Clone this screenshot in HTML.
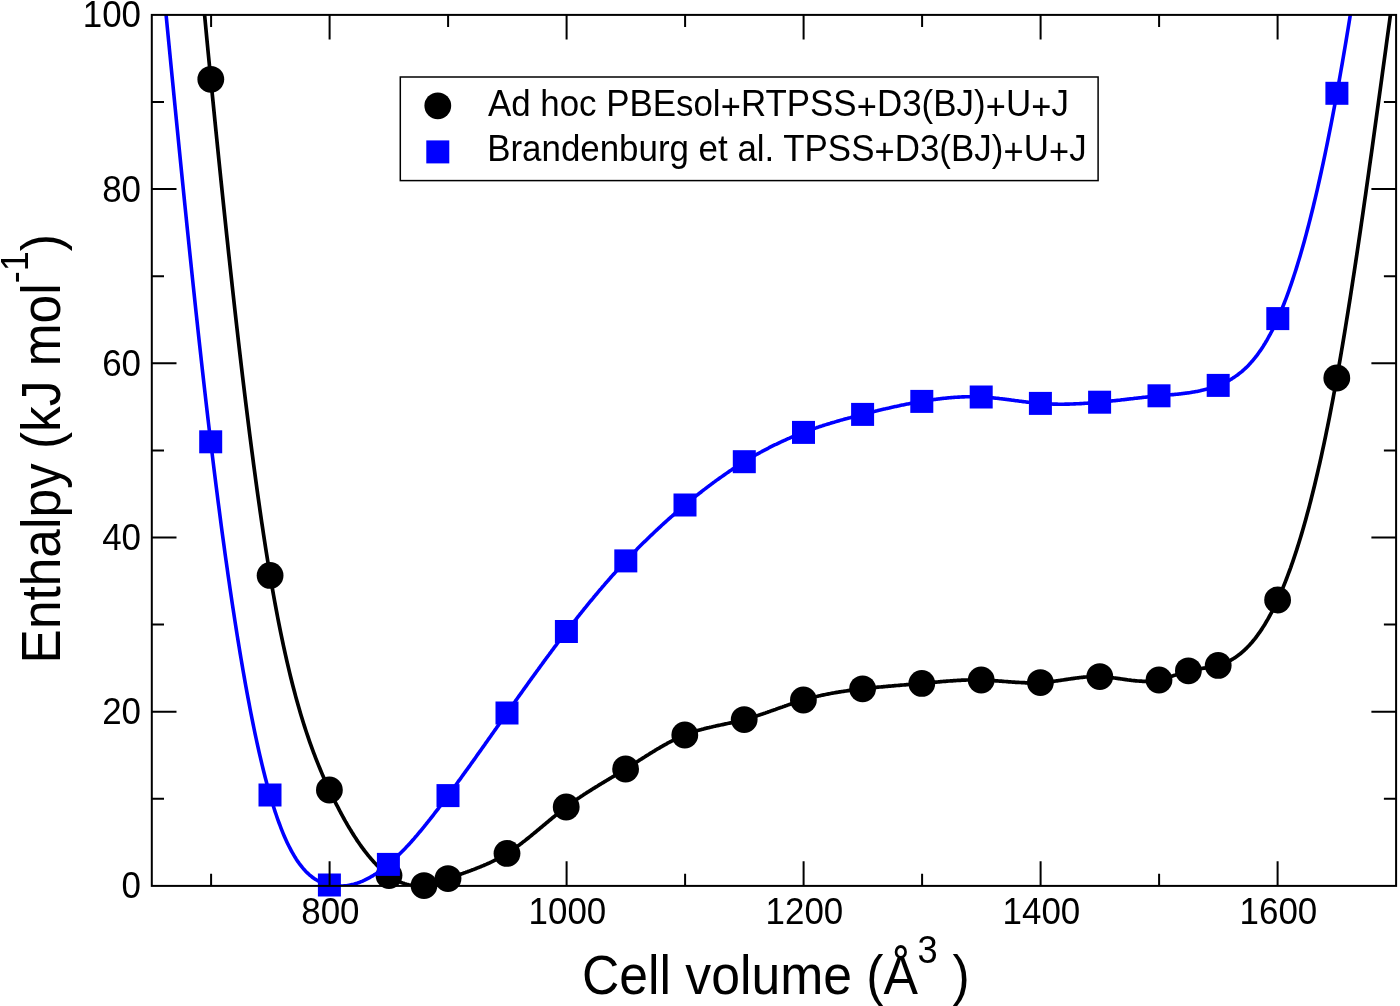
<!DOCTYPE html>
<html><head><meta charset="utf-8"><title>Enthalpy vs cell volume</title>
<style>html,body{margin:0;padding:0;background:#fff;}svg{display:block;}text{font-family:"Liberation Sans",sans-serif;fill:#000;}</style></head><body>
<svg width="1400" height="1006" viewBox="0 0 1400 1006">
<rect width="1400" height="1006" fill="#fff"/>
<defs><clipPath id="plot"><rect x="151.8" y="14.9" width="1244.3" height="871.0"/></clipPath></defs>
<path clip-path="url(#plot)" d="M196.6,-74.6 L197.6,-63.2 L198.6,-51.8 L199.6,-40.4 L200.6,-29.1 L201.6,-17.9 L202.6,-6.8 L203.6,4.2 L204.6,15.0 L205.6,25.7 L206.6,36.2 L207.6,46.6 L208.6,56.9 L209.6,67.1 L210.6,77.3 L211.6,87.4 L212.6,97.5 L213.6,107.5 L214.6,117.5 L215.6,127.5 L216.6,137.4 L217.6,147.2 L218.6,157.1 L219.6,166.9 L220.6,176.6 L221.6,186.3 L222.6,195.9 L223.6,205.5 L224.6,215.0 L225.6,224.5 L226.6,234.0 L227.6,243.3 L228.6,252.7 L229.6,261.9 L230.6,271.1 L231.6,280.3 L232.6,289.4 L233.6,298.4 L234.6,307.4 L235.6,316.3 L236.6,325.1 L237.6,333.9 L238.6,342.6 L239.6,351.2 L240.6,359.8 L241.6,368.2 L242.6,376.7 L243.6,385.0 L244.6,393.3 L245.6,401.5 L246.6,409.6 L247.6,417.6 L248.6,425.6 L249.6,433.5 L250.6,441.3 L251.6,449.0 L252.6,456.6 L253.6,464.2 L254.6,471.6 L255.6,479.0 L256.6,486.3 L257.6,493.5 L258.6,500.6 L259.6,507.6 L260.6,514.5 L261.6,521.4 L262.6,528.1 L263.6,534.7 L264.6,541.3 L265.6,547.7 L266.6,554.0 L267.6,560.3 L268.6,566.4 L269.6,572.4 L270.6,578.3 L271.6,584.2 L272.6,589.9 L273.6,595.5 L274.6,601.0 L275.6,606.4 L276.6,611.7 L277.6,617.0 L278.6,622.1 L279.6,627.1 L280.6,632.1 L281.6,636.9 L282.6,641.7 L283.6,646.3 L284.6,650.9 L285.6,655.4 L286.6,659.9 L287.6,664.2 L288.6,668.4 L289.6,672.6 L290.6,676.7 L291.6,680.7 L292.6,684.7 L293.6,688.5 L294.6,692.3 L295.6,696.1 L296.6,699.7 L297.6,703.3 L298.6,706.8 L299.6,710.3 L300.6,713.7 L301.6,717.0 L302.6,720.3 L303.6,723.5 L304.6,726.6 L305.6,729.7 L306.6,732.8 L307.6,735.7 L308.6,738.7 L309.6,741.6 L310.6,744.4 L311.6,747.2 L312.6,749.9 L313.6,752.6 L314.6,755.2 L315.6,757.8 L316.6,760.4 L317.6,762.9 L318.6,765.4 L319.6,767.8 L320.6,770.2 L321.6,772.6 L322.6,774.9 L323.6,777.2 L324.6,779.5 L325.6,781.7 L326.6,783.9 L327.6,786.1 L328.6,788.3 L329.6,790.4 L330.6,792.5 L331.6,794.6 L332.6,796.7 L333.6,798.8 L334.6,800.8 L335.6,802.8 L336.6,804.8 L337.6,806.7 L338.6,808.7 L339.6,810.6 L340.6,812.5 L341.6,814.3 L342.6,816.2 L343.6,818.0 L344.6,819.8 L345.6,821.6 L346.6,823.3 L347.6,825.1 L348.6,826.8 L349.6,828.4 L350.6,830.1 L351.6,831.7 L352.6,833.4 L353.6,834.9 L354.6,836.5 L355.6,838.0 L356.6,839.6 L357.6,841.1 L358.6,842.5 L359.6,844.0 L360.6,845.4 L361.6,846.8 L362.6,848.2 L363.6,849.5 L364.6,850.8 L365.6,852.1 L366.6,853.4 L367.6,854.7 L368.6,855.9 L369.6,857.1 L370.6,858.3 L371.6,859.4 L372.6,860.6 L373.6,861.7 L374.6,862.8 L375.6,863.8 L376.6,864.9 L377.6,865.9 L378.6,866.8 L379.6,867.8 L380.6,868.7 L381.6,869.6 L382.6,870.5 L383.6,871.4 L384.6,872.2 L385.6,873.0 L386.6,873.8 L387.6,874.6 L388.6,875.3 L389.6,876.0 L390.6,876.7 L391.6,877.4 L392.6,878.0 L393.6,878.6 L394.6,879.2 L395.6,879.7 L396.6,880.3 L397.6,880.8 L398.6,881.3 L399.6,881.7 L400.6,882.2 L401.6,882.6 L402.6,883.0 L403.6,883.3 L404.6,883.7 L405.6,884.0 L406.6,884.3 L407.6,884.5 L408.6,884.8 L409.6,885.0 L410.6,885.2 L411.6,885.4 L412.6,885.5 L413.6,885.6 L414.6,885.8 L415.6,885.8 L416.6,885.9 L417.6,885.9 L418.6,885.9 L419.6,885.9 L420.6,885.9 L421.6,885.8 L422.6,885.7 L423.6,885.6 L424.6,885.5 L425.6,885.4 L426.6,885.2 L427.6,885.0 L428.6,884.8 L429.6,884.6 L430.6,884.4 L431.6,884.1 L432.6,883.8 L433.6,883.5 L434.6,883.3 L435.6,882.9 L436.6,882.6 L437.6,882.3 L438.6,882.0 L439.6,881.6 L440.6,881.3 L441.6,880.9 L442.6,880.6 L443.6,880.2 L444.6,879.8 L445.6,879.5 L446.6,879.1 L447.6,878.7 L448.6,878.4 L449.6,878.0 L450.6,877.7 L451.6,877.3 L452.6,877.0 L453.6,876.6 L454.6,876.3 L455.6,875.9 L456.6,875.6 L457.6,875.2 L458.6,874.9 L459.6,874.5 L460.6,874.2 L461.6,873.8 L462.6,873.5 L463.6,873.1 L464.6,872.7 L465.6,872.4 L466.6,872.0 L467.6,871.7 L468.6,871.3 L469.6,871.0 L470.6,870.6 L471.6,870.2 L472.6,869.8 L473.6,869.5 L474.6,869.1 L475.6,868.7 L476.6,868.3 L477.6,867.9 L478.6,867.5 L479.6,867.1 L480.6,866.7 L481.6,866.3 L482.6,865.9 L483.6,865.5 L484.6,865.0 L485.6,864.6 L486.6,864.2 L487.6,863.7 L488.6,863.3 L489.6,862.8 L490.6,862.3 L491.6,861.9 L492.6,861.4 L493.6,860.9 L494.6,860.4 L495.6,859.9 L496.6,859.4 L497.6,858.8 L498.6,858.3 L499.6,857.8 L500.6,857.2 L501.6,856.6 L502.6,856.1 L503.6,855.5 L504.6,854.9 L505.6,854.3 L506.6,853.7 L507.6,853.0 L508.6,852.4 L509.6,851.7 L510.6,851.1 L511.6,850.4 L512.6,849.7 L513.6,849.0 L514.6,848.3 L515.6,847.6 L516.6,846.9 L517.6,846.2 L518.6,845.4 L519.6,844.7 L520.6,843.9 L521.6,843.2 L522.6,842.4 L523.6,841.6 L524.6,840.9 L525.6,840.1 L526.6,839.3 L527.6,838.5 L528.6,837.7 L529.6,836.9 L530.6,836.1 L531.6,835.3 L532.6,834.4 L533.6,833.6 L534.6,832.8 L535.6,832.0 L536.6,831.1 L537.6,830.3 L538.6,829.5 L539.6,828.6 L540.6,827.8 L541.6,827.0 L542.6,826.1 L543.6,825.3 L544.6,824.5 L545.6,823.6 L546.6,822.8 L547.6,822.0 L548.6,821.1 L549.6,820.3 L550.6,819.5 L551.6,818.6 L552.6,817.8 L553.6,817.0 L554.6,816.2 L555.6,815.3 L556.6,814.5 L557.6,813.7 L558.6,812.9 L559.6,812.1 L560.6,811.3 L561.6,810.5 L562.6,809.8 L563.6,809.0 L564.6,808.2 L565.6,807.5 L566.6,806.7 L567.6,805.9 L568.6,805.2 L569.6,804.5 L570.6,803.7 L571.6,803.0 L572.6,802.3 L573.6,801.6 L574.6,800.9 L575.6,800.2 L576.6,799.5 L577.6,798.8 L578.6,798.1 L579.6,797.5 L580.6,796.8 L581.6,796.1 L582.6,795.5 L583.6,794.8 L584.6,794.1 L585.6,793.5 L586.6,792.8 L587.6,792.2 L588.6,791.6 L589.6,790.9 L590.6,790.3 L591.6,789.7 L592.6,789.0 L593.6,788.4 L594.6,787.8 L595.6,787.2 L596.6,786.6 L597.6,786.0 L598.6,785.3 L599.6,784.7 L600.6,784.1 L601.6,783.5 L602.6,782.9 L603.6,782.3 L604.6,781.7 L605.6,781.1 L606.6,780.5 L607.6,779.9 L608.6,779.3 L609.6,778.7 L610.6,778.1 L611.6,777.5 L612.6,776.9 L613.6,776.3 L614.6,775.7 L615.6,775.1 L616.6,774.5 L617.6,773.9 L618.6,773.3 L619.6,772.7 L620.6,772.1 L621.6,771.5 L622.6,770.9 L623.6,770.2 L624.6,769.6 L625.6,769.0 L626.6,768.4 L627.6,767.8 L628.6,767.1 L629.6,766.5 L630.6,765.9 L631.6,765.2 L632.6,764.6 L633.6,764.0 L634.6,763.3 L635.6,762.7 L636.6,762.1 L637.6,761.4 L638.6,760.8 L639.6,760.1 L640.6,759.5 L641.6,758.9 L642.6,758.2 L643.6,757.6 L644.6,757.0 L645.6,756.3 L646.6,755.7 L647.6,755.1 L648.6,754.5 L649.6,753.8 L650.6,753.2 L651.6,752.6 L652.6,752.0 L653.6,751.4 L654.6,750.8 L655.6,750.1 L656.6,749.5 L657.6,748.9 L658.6,748.4 L659.6,747.8 L660.6,747.2 L661.6,746.6 L662.6,746.0 L663.6,745.5 L664.6,744.9 L665.6,744.3 L666.6,743.8 L667.6,743.2 L668.6,742.7 L669.6,742.2 L670.6,741.6 L671.6,741.1 L672.6,740.6 L673.6,740.1 L674.6,739.6 L675.6,739.1 L676.6,738.6 L677.6,738.1 L678.6,737.7 L679.6,737.2 L680.6,736.8 L681.6,736.3 L682.6,735.9 L683.6,735.5 L684.6,735.1 L685.6,734.7 L686.6,734.3 L687.6,733.9 L688.6,733.5 L689.6,733.2 L690.6,732.8 L691.6,732.5 L692.6,732.1 L693.6,731.8 L694.6,731.5 L695.6,731.2 L696.6,730.9 L697.6,730.6 L698.6,730.3 L699.6,730.0 L700.6,729.7 L701.6,729.4 L702.6,729.2 L703.6,728.9 L704.6,728.6 L705.6,728.4 L706.6,728.1 L707.6,727.9 L708.6,727.7 L709.6,727.4 L710.6,727.2 L711.6,727.0 L712.6,726.7 L713.6,726.5 L714.6,726.3 L715.6,726.1 L716.6,725.8 L717.6,725.6 L718.6,725.4 L719.6,725.2 L720.6,725.0 L721.6,724.8 L722.6,724.6 L723.6,724.4 L724.6,724.1 L725.6,723.9 L726.6,723.7 L727.6,723.5 L728.6,723.3 L729.6,723.1 L730.6,722.9 L731.6,722.6 L732.6,722.4 L733.6,722.2 L734.6,722.0 L735.6,721.7 L736.6,721.5 L737.6,721.3 L738.6,721.0 L739.6,720.8 L740.6,720.5 L741.6,720.3 L742.6,720.0 L743.6,719.8 L744.6,719.5 L745.6,719.2 L746.6,718.9 L747.6,718.7 L748.6,718.4 L749.6,718.1 L750.6,717.8 L751.6,717.5 L752.6,717.2 L753.6,716.9 L754.6,716.5 L755.6,716.2 L756.6,715.9 L757.6,715.6 L758.6,715.3 L759.6,714.9 L760.6,714.6 L761.6,714.2 L762.6,713.9 L763.6,713.6 L764.6,713.2 L765.6,712.9 L766.6,712.5 L767.6,712.2 L768.6,711.8 L769.6,711.5 L770.6,711.1 L771.6,710.8 L772.6,710.4 L773.6,710.1 L774.6,709.7 L775.6,709.4 L776.6,709.0 L777.6,708.6 L778.6,708.3 L779.6,707.9 L780.6,707.6 L781.6,707.2 L782.6,706.9 L783.6,706.5 L784.6,706.2 L785.6,705.8 L786.6,705.5 L787.6,705.1 L788.6,704.8 L789.6,704.4 L790.6,704.1 L791.6,703.7 L792.6,703.4 L793.6,703.1 L794.6,702.7 L795.6,702.4 L796.6,702.1 L797.6,701.8 L798.6,701.5 L799.6,701.2 L800.6,700.8 L801.6,700.5 L802.6,700.2 L803.6,699.9 L804.6,699.6 L805.6,699.4 L806.6,699.1 L807.6,698.8 L808.6,698.5 L809.6,698.3 L810.6,698.0 L811.6,697.7 L812.6,697.5 L813.6,697.2 L814.6,697.0 L815.6,696.7 L816.6,696.5 L817.6,696.3 L818.6,696.0 L819.6,695.8 L820.6,695.6 L821.6,695.3 L822.6,695.1 L823.6,694.9 L824.6,694.7 L825.6,694.5 L826.6,694.3 L827.6,694.1 L828.6,693.9 L829.6,693.7 L830.6,693.5 L831.6,693.3 L832.6,693.1 L833.6,693.0 L834.6,692.8 L835.6,692.6 L836.6,692.4 L837.6,692.3 L838.6,692.1 L839.6,691.9 L840.6,691.8 L841.6,691.6 L842.6,691.5 L843.6,691.3 L844.6,691.2 L845.6,691.0 L846.6,690.9 L847.6,690.7 L848.6,690.6 L849.6,690.4 L850.6,690.3 L851.6,690.2 L852.6,690.0 L853.6,689.9 L854.6,689.8 L855.6,689.6 L856.6,689.5 L857.6,689.4 L858.6,689.3 L859.6,689.1 L860.6,689.0 L861.6,688.9 L862.6,688.8 L863.6,688.7 L864.6,688.6 L865.6,688.5 L866.6,688.4 L867.6,688.2 L868.6,688.1 L869.6,688.0 L870.6,687.9 L871.6,687.8 L872.6,687.7 L873.6,687.6 L874.6,687.5 L875.6,687.4 L876.6,687.3 L877.6,687.2 L878.6,687.1 L879.6,687.0 L880.6,687.0 L881.6,686.9 L882.6,686.8 L883.6,686.7 L884.6,686.6 L885.6,686.5 L886.6,686.4 L887.6,686.3 L888.6,686.2 L889.6,686.1 L890.6,686.1 L891.6,686.0 L892.6,685.9 L893.6,685.8 L894.6,685.7 L895.6,685.6 L896.6,685.5 L897.6,685.5 L898.6,685.4 L899.6,685.3 L900.6,685.2 L901.6,685.1 L902.6,685.0 L903.6,685.0 L904.6,684.9 L905.6,684.8 L906.6,684.7 L907.6,684.6 L908.6,684.5 L909.6,684.5 L910.6,684.4 L911.6,684.3 L912.6,684.2 L913.6,684.1 L914.6,684.0 L915.6,683.9 L916.6,683.9 L917.6,683.8 L918.6,683.7 L919.6,683.6 L920.6,683.5 L921.6,683.4 L922.6,683.3 L923.6,683.2 L924.6,683.1 L925.6,683.1 L926.6,683.0 L927.6,682.9 L928.6,682.8 L929.6,682.7 L930.6,682.6 L931.6,682.5 L932.6,682.4 L933.6,682.3 L934.6,682.2 L935.6,682.1 L936.6,682.1 L937.6,682.0 L938.6,681.9 L939.6,681.8 L940.6,681.7 L941.6,681.6 L942.6,681.5 L943.6,681.4 L944.6,681.4 L945.6,681.3 L946.6,681.2 L947.6,681.1 L948.6,681.0 L949.6,681.0 L950.6,680.9 L951.6,680.8 L952.6,680.8 L953.6,680.7 L954.6,680.6 L955.6,680.6 L956.6,680.5 L957.6,680.4 L958.6,680.4 L959.6,680.3 L960.6,680.3 L961.6,680.2 L962.6,680.2 L963.6,680.2 L964.6,680.1 L965.6,680.1 L966.6,680.0 L967.6,680.0 L968.6,680.0 L969.6,680.0 L970.6,680.0 L971.6,679.9 L972.6,679.9 L973.6,679.9 L974.6,679.9 L975.6,679.9 L976.6,679.9 L977.6,679.9 L978.6,679.9 L979.6,680.0 L980.6,680.0 L981.6,680.0 L982.6,680.0 L983.6,680.1 L984.6,680.1 L985.6,680.2 L986.6,680.2 L987.6,680.3 L988.6,680.3 L989.6,680.4 L990.6,680.4 L991.6,680.5 L992.6,680.6 L993.6,680.6 L994.6,680.7 L995.6,680.8 L996.6,680.8 L997.6,680.9 L998.6,681.0 L999.6,681.1 L1000.6,681.1 L1001.6,681.2 L1002.6,681.3 L1003.6,681.4 L1004.6,681.5 L1005.6,681.5 L1006.6,681.6 L1007.6,681.7 L1008.6,681.8 L1009.6,681.8 L1010.6,681.9 L1011.6,682.0 L1012.6,682.1 L1013.6,682.1 L1014.6,682.2 L1015.6,682.3 L1016.6,682.3 L1017.6,682.4 L1018.6,682.4 L1019.6,682.5 L1020.6,682.5 L1021.6,682.6 L1022.6,682.6 L1023.6,682.7 L1024.6,682.7 L1025.6,682.8 L1026.6,682.8 L1027.6,682.8 L1028.6,682.8 L1029.6,682.8 L1030.6,682.8 L1031.6,682.8 L1032.6,682.8 L1033.6,682.8 L1034.6,682.8 L1035.6,682.8 L1036.6,682.8 L1037.6,682.7 L1038.6,682.7 L1039.6,682.6 L1040.6,682.6 L1041.6,682.5 L1042.6,682.5 L1043.6,682.4 L1044.6,682.3 L1045.6,682.2 L1046.6,682.1 L1047.6,682.0 L1048.6,681.9 L1049.6,681.8 L1050.6,681.7 L1051.6,681.6 L1052.6,681.4 L1053.6,681.3 L1054.6,681.2 L1055.6,681.0 L1056.6,680.9 L1057.6,680.8 L1058.6,680.6 L1059.6,680.5 L1060.6,680.3 L1061.6,680.2 L1062.6,680.0 L1063.6,679.9 L1064.6,679.7 L1065.6,679.6 L1066.6,679.4 L1067.6,679.3 L1068.6,679.1 L1069.6,679.0 L1070.6,678.8 L1071.6,678.7 L1072.6,678.6 L1073.6,678.4 L1074.6,678.3 L1075.6,678.1 L1076.6,678.0 L1077.6,677.9 L1078.6,677.8 L1079.6,677.6 L1080.6,677.5 L1081.6,677.4 L1082.6,677.3 L1083.6,677.2 L1084.6,677.1 L1085.6,677.0 L1086.6,677.0 L1087.6,676.9 L1088.6,676.8 L1089.6,676.7 L1090.6,676.7 L1091.6,676.6 L1092.6,676.6 L1093.6,676.6 L1094.6,676.6 L1095.6,676.5 L1096.6,676.5 L1097.6,676.6 L1098.6,676.6 L1099.6,676.6 L1100.6,676.6 L1101.6,676.7 L1102.6,676.7 L1103.6,676.8 L1104.6,676.9 L1105.6,677.0 L1106.6,677.0 L1107.6,677.1 L1108.6,677.3 L1109.6,677.4 L1110.6,677.5 L1111.6,677.6 L1112.6,677.7 L1113.6,677.9 L1114.6,678.0 L1115.6,678.1 L1116.6,678.3 L1117.6,678.4 L1118.6,678.6 L1119.6,678.7 L1120.6,678.8 L1121.6,679.0 L1122.6,679.1 L1123.6,679.3 L1124.6,679.4 L1125.6,679.6 L1126.6,679.7 L1127.6,679.9 L1128.6,680.0 L1129.6,680.1 L1130.6,680.2 L1131.6,680.4 L1132.6,680.5 L1133.6,680.6 L1134.6,680.7 L1135.6,680.8 L1136.6,680.9 L1137.6,681.0 L1138.6,681.0 L1139.6,681.1 L1140.6,681.2 L1141.6,681.2 L1142.6,681.3 L1143.6,681.3 L1144.6,681.3 L1145.6,681.3 L1146.6,681.3 L1147.6,681.3 L1148.6,681.2 L1149.6,681.2 L1150.6,681.1 L1151.6,681.1 L1152.6,681.0 L1153.6,680.9 L1154.6,680.7 L1155.6,680.6 L1156.6,680.4 L1157.6,680.3 L1158.6,680.1 L1159.6,679.9 L1160.6,679.6 L1161.6,679.4 L1162.6,679.1 L1163.6,678.9 L1164.6,678.6 L1165.6,678.3 L1166.6,678.0 L1167.6,677.6 L1168.6,677.3 L1169.6,677.0 L1170.6,676.6 L1171.6,676.3 L1172.6,675.9 L1173.6,675.6 L1174.6,675.2 L1175.6,674.9 L1176.6,674.5 L1177.6,674.2 L1178.6,673.8 L1179.6,673.5 L1180.6,673.1 L1181.6,672.8 L1182.6,672.5 L1183.6,672.2 L1184.6,671.8 L1185.6,671.6 L1186.6,671.3 L1187.6,671.0 L1188.6,670.8 L1189.6,670.5 L1190.6,670.3 L1191.6,670.1 L1192.6,669.9 L1193.6,669.7 L1194.6,669.5 L1195.6,669.4 L1196.6,669.2 L1197.6,669.0 L1198.6,668.9 L1199.6,668.8 L1200.6,668.6 L1201.6,668.5 L1202.6,668.3 L1203.6,668.2 L1204.6,668.1 L1205.6,667.9 L1206.6,667.8 L1207.6,667.6 L1208.6,667.5 L1209.6,667.3 L1210.6,667.1 L1211.6,666.9 L1212.6,666.7 L1213.6,666.5 L1214.6,666.3 L1215.6,666.1 L1216.6,665.8 L1217.6,665.6 L1218.6,665.3 L1219.6,665.0 L1220.6,664.7 L1221.6,664.3 L1222.6,664.0 L1223.6,663.6 L1224.6,663.2 L1225.6,662.7 L1226.6,662.3 L1227.6,661.8 L1228.6,661.3 L1229.6,660.8 L1230.6,660.3 L1231.6,659.7 L1232.6,659.1 L1233.6,658.5 L1234.6,657.9 L1235.6,657.2 L1236.6,656.5 L1237.6,655.8 L1238.6,655.0 L1239.6,654.3 L1240.6,653.5 L1241.6,652.6 L1242.6,651.8 L1243.6,650.9 L1244.6,650.0 L1245.6,649.0 L1246.6,648.1 L1247.6,647.0 L1248.6,646.0 L1249.6,644.9 L1250.6,643.8 L1251.6,642.7 L1252.6,641.5 L1253.6,640.3 L1254.6,639.1 L1255.6,637.8 L1256.6,636.5 L1257.6,635.1 L1258.6,633.7 L1259.6,632.3 L1260.6,630.9 L1261.6,629.4 L1262.6,627.8 L1263.6,626.3 L1264.6,624.7 L1265.6,623.0 L1266.6,621.3 L1267.6,619.6 L1268.6,617.8 L1269.6,616.0 L1270.6,614.2 L1271.6,612.3 L1272.6,610.3 L1273.6,608.4 L1274.6,606.3 L1275.6,604.3 L1276.6,602.2 L1277.6,600.0 L1278.6,597.8 L1279.6,595.6 L1280.6,593.3 L1281.6,590.9 L1282.6,588.5 L1283.6,586.1 L1284.6,583.6 L1285.6,581.1 L1286.6,578.5 L1287.6,575.9 L1288.6,573.2 L1289.6,570.5 L1290.6,567.8 L1291.6,564.9 L1292.6,562.1 L1293.6,559.1 L1294.6,556.2 L1295.6,553.1 L1296.6,550.1 L1297.6,546.9 L1298.6,543.7 L1299.6,540.5 L1300.6,537.2 L1301.6,533.9 L1302.6,530.5 L1303.6,527.0 L1304.6,523.5 L1305.6,519.9 L1306.6,516.3 L1307.6,512.6 L1308.6,508.9 L1309.6,505.1 L1310.6,501.2 L1311.6,497.3 L1312.6,493.3 L1313.6,489.3 L1314.6,485.2 L1315.6,481.0 L1316.6,476.8 L1317.6,472.5 L1318.6,468.2 L1319.6,463.8 L1320.6,459.3 L1321.6,454.8 L1322.6,450.2 L1323.6,445.6 L1324.6,440.8 L1325.6,436.1 L1326.6,431.2 L1327.6,426.3 L1328.6,421.3 L1329.6,416.3 L1330.6,411.2 L1331.6,406.0 L1332.6,400.8 L1333.6,395.5 L1334.6,390.1 L1335.6,384.6 L1336.6,379.1 L1337.6,373.5 L1338.6,367.9 L1339.6,362.1 L1340.6,356.4 L1341.6,350.5 L1342.6,344.6 L1343.6,338.6 L1344.6,332.6 L1345.6,326.5 L1346.6,320.3 L1347.6,314.1 L1348.6,307.9 L1349.6,301.6 L1350.6,295.2 L1351.6,288.8 L1352.6,282.3 L1353.6,275.8 L1354.6,269.2 L1355.6,262.6 L1356.6,256.0 L1357.6,249.3 L1358.6,242.5 L1359.6,235.8 L1360.6,228.9 L1361.6,222.1 L1362.6,215.2 L1363.6,208.3 L1364.6,201.3 L1365.6,194.4 L1366.6,187.3 L1367.6,180.3 L1368.6,173.2 L1369.6,166.1 L1370.6,159.0 L1371.6,151.9 L1372.6,144.7 L1373.6,137.5 L1374.6,130.3 L1375.6,123.1 L1376.6,115.8 L1377.6,108.6 L1378.6,101.3 L1379.6,94.0 L1380.6,86.7 L1381.6,79.4 L1382.6,72.1 L1383.6,64.8 L1384.6,57.5 L1385.6,50.2 L1386.6,42.8 L1387.6,35.5 L1388.6,28.2 L1389.6,20.9 L1390.6,13.5 L1391.6,6.2 L1392.6,-1.1 L1393.6,-8.4 L1394.6,-15.7 L1395.6,-23.0 L1396.6,-30.4 L1397.6,-37.7" fill="none" stroke="#000" stroke-width="3.7" stroke-linejoin="round"/>
<g fill="#000"><circle cx="210.8" cy="79.3" r="13.4"/><circle cx="270.1" cy="575.4" r="13.4"/><circle cx="329.4" cy="790.0" r="13.4"/><circle cx="389.0" cy="875.6" r="13.4"/><circle cx="424.0" cy="885.6" r="13.4"/><circle cx="448.0" cy="878.6" r="13.4"/><circle cx="507.0" cy="853.4" r="13.4"/><circle cx="566.2" cy="807.0" r="13.4"/><circle cx="625.6" cy="769.0" r="13.4"/><circle cx="684.8" cy="735.0" r="13.4"/><circle cx="744.2" cy="719.6" r="13.4"/><circle cx="803.4" cy="700.0" r="13.4"/><circle cx="862.6" cy="688.8" r="13.4"/><circle cx="921.8" cy="683.4" r="13.4"/><circle cx="981.2" cy="680.0" r="13.4"/><circle cx="1040.4" cy="682.6" r="13.4"/><circle cx="1099.8" cy="676.6" r="13.4"/><circle cx="1159.0" cy="680.0" r="13.4"/><circle cx="1188.4" cy="670.8" r="13.4"/><circle cx="1218.2" cy="665.4" r="13.4"/><circle cx="1277.6" cy="600.0" r="13.4"/><circle cx="1336.8" cy="378.0" r="13.4"/></g>
<path clip-path="url(#plot)" d="M158.1,-67.7 L159.1,-57.3 L160.1,-47.0 L161.1,-36.6 L162.1,-26.3 L163.1,-16.0 L164.1,-5.6 L165.1,4.7 L166.1,15.0 L167.1,25.3 L168.1,35.6 L169.1,45.9 L170.1,56.1 L171.1,66.4 L172.1,76.6 L173.1,86.8 L174.1,97.0 L175.1,107.1 L176.1,117.3 L177.1,127.4 L178.1,137.4 L179.1,147.5 L180.1,157.5 L181.1,167.5 L182.1,177.5 L183.1,187.4 L184.1,197.3 L185.1,207.1 L186.1,216.9 L187.1,226.7 L188.1,236.4 L189.1,246.1 L190.1,255.8 L191.1,265.3 L192.1,274.9 L193.1,284.4 L194.1,293.8 L195.1,303.2 L196.1,312.6 L197.1,321.8 L198.1,331.1 L199.1,340.2 L200.1,349.3 L201.1,358.4 L202.1,367.4 L203.1,376.3 L204.1,385.1 L205.1,393.9 L206.1,402.6 L207.1,411.3 L208.1,419.9 L209.1,428.4 L210.1,436.8 L211.1,445.1 L212.1,453.4 L213.1,461.6 L214.1,469.7 L215.1,477.8 L216.1,485.7 L217.1,493.6 L218.1,501.4 L219.1,509.1 L220.1,516.8 L221.1,524.4 L222.1,531.9 L223.1,539.3 L224.1,546.6 L225.1,553.9 L226.1,561.0 L227.1,568.1 L228.1,575.2 L229.1,582.1 L230.1,589.0 L231.1,595.7 L232.1,602.4 L233.1,609.0 L234.1,615.6 L235.1,622.0 L236.1,628.4 L237.1,634.7 L238.1,640.9 L239.1,647.0 L240.1,653.1 L241.1,659.0 L242.1,664.9 L243.1,670.7 L244.1,676.4 L245.1,682.1 L246.1,687.6 L247.1,693.1 L248.1,698.4 L249.1,703.7 L250.1,709.0 L251.1,714.1 L252.1,719.1 L253.1,724.1 L254.1,729.0 L255.1,733.8 L256.1,738.5 L257.1,743.1 L258.1,747.6 L259.1,752.1 L260.1,756.4 L261.1,760.7 L262.1,764.9 L263.1,769.0 L264.1,773.0 L265.1,777.0 L266.1,780.8 L267.1,784.6 L268.1,788.3 L269.1,791.8 L270.1,795.3 L271.1,798.8 L272.1,802.1 L273.1,805.3 L274.1,808.5 L275.1,811.6 L276.1,814.5 L277.1,817.5 L278.1,820.3 L279.1,823.0 L280.1,825.7 L281.1,828.3 L282.1,830.8 L283.1,833.3 L284.1,835.7 L285.1,838.0 L286.1,840.2 L287.1,842.4 L288.1,844.5 L289.1,846.5 L290.1,848.4 L291.1,850.3 L292.1,852.2 L293.1,853.9 L294.1,855.6 L295.1,857.3 L296.1,858.9 L297.1,860.4 L298.1,861.9 L299.1,863.3 L300.1,864.6 L301.1,865.9 L302.1,867.2 L303.1,868.4 L304.1,869.5 L305.1,870.6 L306.1,871.7 L307.1,872.7 L308.1,873.6 L309.1,874.6 L310.1,875.4 L311.1,876.2 L312.1,877.0 L313.1,877.8 L314.1,878.5 L315.1,879.1 L316.1,879.7 L317.1,880.3 L318.1,880.9 L319.1,881.4 L320.1,881.9 L321.1,882.3 L322.1,882.8 L323.1,883.1 L324.1,883.5 L325.1,883.8 L326.1,884.2 L327.1,884.4 L328.1,884.7 L329.1,884.9 L330.1,885.1 L331.1,885.3 L332.1,885.5 L333.1,885.7 L334.1,885.8 L335.1,885.9 L336.1,886.0 L337.1,886.0 L338.1,886.1 L339.1,886.1 L340.1,886.1 L341.1,886.1 L342.1,886.1 L343.1,886.0 L344.1,885.9 L345.1,885.8 L346.1,885.7 L347.1,885.6 L348.1,885.4 L349.1,885.2 L350.1,885.1 L351.1,884.8 L352.1,884.6 L353.1,884.4 L354.1,884.1 L355.1,883.8 L356.1,883.5 L357.1,883.2 L358.1,882.8 L359.1,882.5 L360.1,882.1 L361.1,881.7 L362.1,881.3 L363.1,880.8 L364.1,880.4 L365.1,879.9 L366.1,879.4 L367.1,878.9 L368.1,878.4 L369.1,877.9 L370.1,877.3 L371.1,876.7 L372.1,876.2 L373.1,875.6 L374.1,874.9 L375.1,874.3 L376.1,873.7 L377.1,873.0 L378.1,872.3 L379.1,871.6 L380.1,870.9 L381.1,870.2 L382.1,869.4 L383.1,868.7 L384.1,867.9 L385.1,867.1 L386.1,866.3 L387.1,865.5 L388.1,864.7 L389.1,863.8 L390.1,862.9 L391.1,862.1 L392.1,861.2 L393.1,860.3 L394.1,859.4 L395.1,858.4 L396.1,857.5 L397.1,856.5 L398.1,855.6 L399.1,854.6 L400.1,853.6 L401.1,852.6 L402.1,851.6 L403.1,850.6 L404.1,849.5 L405.1,848.5 L406.1,847.4 L407.1,846.3 L408.1,845.3 L409.1,844.2 L410.1,843.1 L411.1,842.0 L412.1,840.8 L413.1,839.7 L414.1,838.6 L415.1,837.4 L416.1,836.2 L417.1,835.1 L418.1,833.9 L419.1,832.7 L420.1,831.5 L421.1,830.3 L422.1,829.1 L423.1,827.9 L424.1,826.7 L425.1,825.4 L426.1,824.2 L427.1,822.9 L428.1,821.7 L429.1,820.4 L430.1,819.2 L431.1,817.9 L432.1,816.6 L433.1,815.3 L434.1,814.0 L435.1,812.7 L436.1,811.4 L437.1,810.1 L438.1,808.8 L439.1,807.5 L440.1,806.2 L441.1,804.8 L442.1,803.5 L443.1,802.2 L444.1,800.8 L445.1,799.5 L446.1,798.2 L447.1,796.8 L448.1,795.5 L449.1,794.1 L450.1,792.8 L451.1,791.4 L452.1,790.0 L453.1,788.7 L454.1,787.3 L455.1,785.9 L456.1,784.6 L457.1,783.2 L458.1,781.8 L459.1,780.4 L460.1,779.1 L461.1,777.7 L462.1,776.3 L463.1,774.9 L464.1,773.5 L465.1,772.1 L466.1,770.7 L467.1,769.4 L468.1,768.0 L469.1,766.6 L470.1,765.2 L471.1,763.8 L472.1,762.4 L473.1,761.0 L474.1,759.6 L475.1,758.2 L476.1,756.8 L477.1,755.3 L478.1,753.9 L479.1,752.5 L480.1,751.1 L481.1,749.7 L482.1,748.3 L483.1,746.9 L484.1,745.5 L485.1,744.1 L486.1,742.6 L487.1,741.2 L488.1,739.8 L489.1,738.4 L490.1,737.0 L491.1,735.6 L492.1,734.1 L493.1,732.7 L494.1,731.3 L495.1,729.9 L496.1,728.5 L497.1,727.0 L498.1,725.6 L499.1,724.2 L500.1,722.8 L501.1,721.4 L502.1,719.9 L503.1,718.5 L504.1,717.1 L505.1,715.7 L506.1,714.3 L507.1,712.9 L508.1,711.4 L509.1,710.0 L510.1,708.6 L511.1,707.2 L512.1,705.8 L513.1,704.4 L514.1,703.0 L515.1,701.6 L516.1,700.1 L517.1,698.7 L518.1,697.3 L519.1,695.9 L520.1,694.5 L521.1,693.1 L522.1,691.7 L523.1,690.3 L524.1,688.9 L525.1,687.5 L526.1,686.1 L527.1,684.7 L528.1,683.3 L529.1,681.9 L530.1,680.5 L531.1,679.1 L532.1,677.7 L533.1,676.4 L534.1,675.0 L535.1,673.6 L536.1,672.2 L537.1,670.8 L538.1,669.5 L539.1,668.1 L540.1,666.7 L541.1,665.3 L542.1,664.0 L543.1,662.6 L544.1,661.2 L545.1,659.9 L546.1,658.5 L547.1,657.2 L548.1,655.8 L549.1,654.5 L550.1,653.1 L551.1,651.8 L552.1,650.4 L553.1,649.1 L554.1,647.7 L555.1,646.4 L556.1,645.1 L557.1,643.7 L558.1,642.4 L559.1,641.1 L560.1,639.8 L561.1,638.4 L562.1,637.1 L563.1,635.8 L564.1,634.5 L565.1,633.2 L566.1,631.9 L567.1,630.6 L568.1,629.3 L569.1,628.0 L570.1,626.7 L571.1,625.4 L572.1,624.1 L573.1,622.9 L574.1,621.6 L575.1,620.3 L576.1,619.1 L577.1,617.8 L578.1,616.5 L579.1,615.3 L580.1,614.0 L581.1,612.8 L582.1,611.5 L583.1,610.3 L584.1,609.0 L585.1,607.8 L586.1,606.6 L587.1,605.3 L588.1,604.1 L589.1,602.9 L590.1,601.7 L591.1,600.5 L592.1,599.3 L593.1,598.1 L594.1,596.8 L595.1,595.7 L596.1,594.5 L597.1,593.3 L598.1,592.1 L599.1,590.9 L600.1,589.7 L601.1,588.6 L602.1,587.4 L603.1,586.2 L604.1,585.1 L605.1,583.9 L606.1,582.7 L607.1,581.6 L608.1,580.5 L609.1,579.3 L610.1,578.2 L611.1,577.0 L612.1,575.9 L613.1,574.8 L614.1,573.7 L615.1,572.6 L616.1,571.4 L617.1,570.3 L618.1,569.2 L619.1,568.1 L620.1,567.0 L621.1,566.0 L622.1,564.9 L623.1,563.8 L624.1,562.7 L625.1,561.6 L626.1,560.6 L627.1,559.5 L628.1,558.5 L629.1,557.4 L630.1,556.4 L631.1,555.3 L632.1,554.3 L633.1,553.2 L634.1,552.2 L635.1,551.2 L636.1,550.2 L637.1,549.1 L638.1,548.1 L639.1,547.1 L640.1,546.1 L641.1,545.1 L642.1,544.1 L643.1,543.1 L644.1,542.1 L645.1,541.2 L646.1,540.2 L647.1,539.2 L648.1,538.2 L649.1,537.3 L650.1,536.3 L651.1,535.3 L652.1,534.4 L653.1,533.4 L654.1,532.5 L655.1,531.5 L656.1,530.6 L657.1,529.7 L658.1,528.7 L659.1,527.8 L660.1,526.9 L661.1,525.9 L662.1,525.0 L663.1,524.1 L664.1,523.2 L665.1,522.3 L666.1,521.4 L667.1,520.5 L668.1,519.6 L669.1,518.7 L670.1,517.8 L671.1,516.9 L672.1,516.1 L673.1,515.2 L674.1,514.3 L675.1,513.4 L676.1,512.6 L677.1,511.7 L678.1,510.8 L679.1,510.0 L680.1,509.1 L681.1,508.3 L682.1,507.4 L683.1,506.6 L684.1,505.8 L685.1,504.9 L686.1,504.1 L687.1,503.3 L688.1,502.4 L689.1,501.6 L690.1,500.8 L691.1,500.0 L692.1,499.1 L693.1,498.3 L694.1,497.5 L695.1,496.7 L696.1,495.9 L697.1,495.1 L698.1,494.3 L699.1,493.5 L700.1,492.8 L701.1,492.0 L702.1,491.2 L703.1,490.4 L704.1,489.6 L705.1,488.9 L706.1,488.1 L707.1,487.3 L708.1,486.6 L709.1,485.8 L710.1,485.1 L711.1,484.3 L712.1,483.6 L713.1,482.8 L714.1,482.1 L715.1,481.4 L716.1,480.6 L717.1,479.9 L718.1,479.2 L719.1,478.5 L720.1,477.8 L721.1,477.1 L722.1,476.4 L723.1,475.7 L724.1,475.0 L725.1,474.3 L726.1,473.6 L727.1,472.9 L728.1,472.2 L729.1,471.5 L730.1,470.8 L731.1,470.2 L732.1,469.5 L733.1,468.8 L734.1,468.2 L735.1,467.5 L736.1,466.9 L737.1,466.2 L738.1,465.6 L739.1,465.0 L740.1,464.3 L741.1,463.7 L742.1,463.1 L743.1,462.4 L744.1,461.8 L745.1,461.2 L746.1,460.6 L747.1,460.0 L748.1,459.4 L749.1,458.8 L750.1,458.2 L751.1,457.6 L752.1,457.0 L753.1,456.5 L754.1,455.9 L755.1,455.3 L756.1,454.7 L757.1,454.2 L758.1,453.6 L759.1,453.1 L760.1,452.5 L761.1,452.0 L762.1,451.4 L763.1,450.9 L764.1,450.4 L765.1,449.8 L766.1,449.3 L767.1,448.8 L768.1,448.3 L769.1,447.7 L770.1,447.2 L771.1,446.7 L772.1,446.2 L773.1,445.7 L774.1,445.2 L775.1,444.7 L776.1,444.3 L777.1,443.8 L778.1,443.3 L779.1,442.8 L780.1,442.3 L781.1,441.9 L782.1,441.4 L783.1,441.0 L784.1,440.5 L785.1,440.1 L786.1,439.6 L787.1,439.2 L788.1,438.7 L789.1,438.3 L790.1,437.8 L791.1,437.4 L792.1,437.0 L793.1,436.6 L794.1,436.2 L795.1,435.7 L796.1,435.3 L797.1,434.9 L798.1,434.5 L799.1,434.1 L800.1,433.7 L801.1,433.3 L802.1,432.9 L803.1,432.6 L804.1,432.2 L805.1,431.8 L806.1,431.4 L807.1,431.0 L808.1,430.7 L809.1,430.3 L810.1,430.0 L811.1,429.6 L812.1,429.2 L813.1,428.9 L814.1,428.5 L815.1,428.2 L816.1,427.9 L817.1,427.5 L818.1,427.2 L819.1,426.8 L820.1,426.5 L821.1,426.2 L822.1,425.9 L823.1,425.5 L824.1,425.2 L825.1,424.9 L826.1,424.6 L827.1,424.3 L828.1,424.0 L829.1,423.7 L830.1,423.4 L831.1,423.0 L832.1,422.7 L833.1,422.4 L834.1,422.2 L835.1,421.9 L836.1,421.6 L837.1,421.3 L838.1,421.0 L839.1,420.7 L840.1,420.4 L841.1,420.1 L842.1,419.9 L843.1,419.6 L844.1,419.3 L845.1,419.0 L846.1,418.7 L847.1,418.5 L848.1,418.2 L849.1,417.9 L850.1,417.7 L851.1,417.4 L852.1,417.1 L853.1,416.9 L854.1,416.6 L855.1,416.3 L856.1,416.1 L857.1,415.8 L858.1,415.6 L859.1,415.3 L860.1,415.0 L861.1,414.8 L862.1,414.5 L863.1,414.3 L864.1,414.0 L865.1,413.8 L866.1,413.5 L867.1,413.3 L868.1,413.0 L869.1,412.8 L870.1,412.5 L871.1,412.3 L872.1,412.0 L873.1,411.8 L874.1,411.5 L875.1,411.3 L876.1,411.0 L877.1,410.8 L878.1,410.5 L879.1,410.3 L880.1,410.1 L881.1,409.8 L882.1,409.6 L883.1,409.3 L884.1,409.1 L885.1,408.9 L886.1,408.6 L887.1,408.4 L888.1,408.2 L889.1,408.0 L890.1,407.7 L891.1,407.5 L892.1,407.3 L893.1,407.1 L894.1,406.8 L895.1,406.6 L896.1,406.4 L897.1,406.2 L898.1,406.0 L899.1,405.8 L900.1,405.5 L901.1,405.3 L902.1,405.1 L903.1,404.9 L904.1,404.7 L905.1,404.5 L906.1,404.3 L907.1,404.1 L908.1,403.9 L909.1,403.7 L910.1,403.5 L911.1,403.3 L912.1,403.1 L913.1,402.9 L914.1,402.8 L915.1,402.6 L916.1,402.4 L917.1,402.2 L918.1,402.0 L919.1,401.9 L920.1,401.7 L921.1,401.5 L922.1,401.3 L923.1,401.2 L924.1,401.0 L925.1,400.9 L926.1,400.7 L927.1,400.5 L928.1,400.4 L929.1,400.2 L930.1,400.1 L931.1,399.9 L932.1,399.8 L933.1,399.6 L934.1,399.5 L935.1,399.4 L936.1,399.2 L937.1,399.1 L938.1,399.0 L939.1,398.9 L940.1,398.7 L941.1,398.6 L942.1,398.5 L943.1,398.4 L944.1,398.3 L945.1,398.2 L946.1,398.1 L947.1,398.0 L948.1,397.9 L949.1,397.8 L950.1,397.7 L951.1,397.6 L952.1,397.5 L953.1,397.5 L954.1,397.4 L955.1,397.3 L956.1,397.3 L957.1,397.2 L958.1,397.1 L959.1,397.1 L960.1,397.0 L961.1,397.0 L962.1,396.9 L963.1,396.9 L964.1,396.9 L965.1,396.8 L966.1,396.8 L967.1,396.8 L968.1,396.8 L969.1,396.8 L970.1,396.8 L971.1,396.8 L972.1,396.8 L973.1,396.8 L974.1,396.8 L975.1,396.8 L976.1,396.8 L977.1,396.8 L978.1,396.9 L979.1,396.9 L980.1,396.9 L981.1,397.0 L982.1,397.0 L983.1,397.1 L984.1,397.2 L985.1,397.2 L986.1,397.3 L987.1,397.4 L988.1,397.4 L989.1,397.5 L990.1,397.6 L991.1,397.7 L992.1,397.8 L993.1,397.9 L994.1,398.0 L995.1,398.1 L996.1,398.2 L997.1,398.3 L998.1,398.4 L999.1,398.5 L1000.1,398.7 L1001.1,398.8 L1002.1,398.9 L1003.1,399.0 L1004.1,399.1 L1005.1,399.3 L1006.1,399.4 L1007.1,399.5 L1008.1,399.6 L1009.1,399.8 L1010.1,399.9 L1011.1,400.0 L1012.1,400.2 L1013.1,400.3 L1014.1,400.4 L1015.1,400.6 L1016.1,400.7 L1017.1,400.8 L1018.1,400.9 L1019.1,401.1 L1020.1,401.2 L1021.1,401.3 L1022.1,401.5 L1023.1,401.6 L1024.1,401.7 L1025.1,401.8 L1026.1,402.0 L1027.1,402.1 L1028.1,402.2 L1029.1,402.3 L1030.1,402.4 L1031.1,402.5 L1032.1,402.6 L1033.1,402.7 L1034.1,402.8 L1035.1,402.9 L1036.1,403.0 L1037.1,403.1 L1038.1,403.2 L1039.1,403.3 L1040.1,403.4 L1041.1,403.5 L1042.1,403.5 L1043.1,403.6 L1044.1,403.7 L1045.1,403.7 L1046.1,403.8 L1047.1,403.8 L1048.1,403.9 L1049.1,403.9 L1050.1,404.0 L1051.1,404.0 L1052.1,404.0 L1053.1,404.1 L1054.1,404.1 L1055.1,404.1 L1056.1,404.1 L1057.1,404.1 L1058.1,404.2 L1059.1,404.2 L1060.1,404.2 L1061.1,404.2 L1062.1,404.2 L1063.1,404.2 L1064.1,404.2 L1065.1,404.1 L1066.1,404.1 L1067.1,404.1 L1068.1,404.1 L1069.1,404.1 L1070.1,404.0 L1071.1,404.0 L1072.1,404.0 L1073.1,404.0 L1074.1,403.9 L1075.1,403.9 L1076.1,403.8 L1077.1,403.8 L1078.1,403.7 L1079.1,403.7 L1080.1,403.6 L1081.1,403.6 L1082.1,403.5 L1083.1,403.5 L1084.1,403.4 L1085.1,403.3 L1086.1,403.3 L1087.1,403.2 L1088.1,403.1 L1089.1,403.1 L1090.1,403.0 L1091.1,402.9 L1092.1,402.8 L1093.1,402.8 L1094.1,402.7 L1095.1,402.6 L1096.1,402.5 L1097.1,402.4 L1098.1,402.3 L1099.1,402.2 L1100.1,402.2 L1101.1,402.1 L1102.1,402.0 L1103.1,401.9 L1104.1,401.8 L1105.1,401.7 L1106.1,401.6 L1107.1,401.5 L1108.1,401.4 L1109.1,401.3 L1110.1,401.2 L1111.1,401.0 L1112.1,400.9 L1113.1,400.8 L1114.1,400.7 L1115.1,400.6 L1116.1,400.5 L1117.1,400.4 L1118.1,400.3 L1119.1,400.2 L1120.1,400.1 L1121.1,399.9 L1122.1,399.8 L1123.1,399.7 L1124.1,399.6 L1125.1,399.5 L1126.1,399.4 L1127.1,399.3 L1128.1,399.1 L1129.1,399.0 L1130.1,398.9 L1131.1,398.8 L1132.1,398.7 L1133.1,398.6 L1134.1,398.4 L1135.1,398.3 L1136.1,398.2 L1137.1,398.1 L1138.1,398.0 L1139.1,397.9 L1140.1,397.8 L1141.1,397.7 L1142.1,397.5 L1143.1,397.4 L1144.1,397.3 L1145.1,397.2 L1146.1,397.1 L1147.1,397.0 L1148.1,396.9 L1149.1,396.8 L1150.1,396.7 L1151.1,396.6 L1152.1,396.5 L1153.1,396.4 L1154.1,396.3 L1155.1,396.2 L1156.1,396.1 L1157.1,396.0 L1158.1,395.9 L1159.1,395.8 L1160.1,395.7 L1161.1,395.6 L1162.1,395.5 L1163.1,395.4 L1164.1,395.3 L1165.1,395.3 L1166.1,395.2 L1167.1,395.1 L1168.1,395.0 L1169.1,394.9 L1170.1,394.8 L1171.1,394.7 L1172.1,394.6 L1173.1,394.6 L1174.1,394.5 L1175.1,394.4 L1176.1,394.3 L1177.1,394.2 L1178.1,394.1 L1179.1,394.0 L1180.1,393.9 L1181.1,393.7 L1182.1,393.6 L1183.1,393.5 L1184.1,393.4 L1185.1,393.3 L1186.1,393.1 L1187.1,393.0 L1188.1,392.9 L1189.1,392.7 L1190.1,392.6 L1191.1,392.4 L1192.1,392.3 L1193.1,392.1 L1194.1,391.9 L1195.1,391.8 L1196.1,391.6 L1197.1,391.4 L1198.1,391.2 L1199.1,391.0 L1200.1,390.8 L1201.1,390.5 L1202.1,390.3 L1203.1,390.1 L1204.1,389.8 L1205.1,389.6 L1206.1,389.3 L1207.1,389.1 L1208.1,388.8 L1209.1,388.5 L1210.1,388.2 L1211.1,387.9 L1212.1,387.6 L1213.1,387.2 L1214.1,386.9 L1215.1,386.6 L1216.1,386.2 L1217.1,385.8 L1218.1,385.4 L1219.1,385.0 L1220.1,384.6 L1221.1,384.2 L1222.1,383.8 L1223.1,383.3 L1224.1,382.9 L1225.1,382.4 L1226.1,381.9 L1227.1,381.4 L1228.1,380.9 L1229.1,380.3 L1230.1,379.8 L1231.1,379.2 L1232.1,378.6 L1233.1,377.9 L1234.1,377.3 L1235.1,376.6 L1236.1,375.9 L1237.1,375.2 L1238.1,374.5 L1239.1,373.7 L1240.1,372.9 L1241.1,372.1 L1242.1,371.3 L1243.1,370.4 L1244.1,369.5 L1245.1,368.6 L1246.1,367.7 L1247.1,366.7 L1248.1,365.7 L1249.1,364.6 L1250.1,363.5 L1251.1,362.4 L1252.1,361.3 L1253.1,360.1 L1254.1,358.9 L1255.1,357.7 L1256.1,356.4 L1257.1,355.1 L1258.1,353.7 L1259.1,352.3 L1260.1,350.9 L1261.1,349.4 L1262.1,347.9 L1263.1,346.4 L1264.1,344.8 L1265.1,343.2 L1266.1,341.5 L1267.1,339.8 L1268.1,338.0 L1269.1,336.2 L1270.1,334.4 L1271.1,332.5 L1272.1,330.6 L1273.1,328.6 L1274.1,326.5 L1275.1,324.5 L1276.1,322.3 L1277.1,320.2 L1278.1,317.9 L1279.1,315.6 L1280.1,313.3 L1281.1,310.9 L1282.1,308.5 L1283.1,306.0 L1284.1,303.5 L1285.1,300.9 L1286.1,298.3 L1287.1,295.6 L1288.1,292.9 L1289.1,290.1 L1290.1,287.2 L1291.1,284.3 L1292.1,281.4 L1293.1,278.4 L1294.1,275.3 L1295.1,272.2 L1296.1,269.1 L1297.1,265.9 L1298.1,262.6 L1299.1,259.3 L1300.1,255.9 L1301.1,252.5 L1302.1,249.0 L1303.1,245.5 L1304.1,241.9 L1305.1,238.3 L1306.1,234.6 L1307.1,230.8 L1308.1,227.0 L1309.1,223.1 L1310.1,219.2 L1311.1,215.3 L1312.1,211.2 L1313.1,207.2 L1314.1,203.0 L1315.1,198.8 L1316.1,194.6 L1317.1,190.3 L1318.1,185.9 L1319.1,181.5 L1320.1,177.0 L1321.1,172.5 L1322.1,167.9 L1323.1,163.3 L1324.1,158.6 L1325.1,153.8 L1326.1,149.0 L1327.1,144.1 L1328.1,139.2 L1329.1,134.2 L1330.1,129.2 L1331.1,124.1 L1332.1,118.9 L1333.1,113.7 L1334.1,108.4 L1335.1,103.1 L1336.1,97.7 L1337.1,92.2 L1338.1,86.7 L1339.1,81.1 L1340.1,75.5 L1341.1,69.8 L1342.1,64.1 L1343.1,58.3 L1344.1,52.4 L1345.1,46.5 L1346.1,40.6 L1347.1,34.5 L1348.1,28.5 L1349.1,22.4 L1350.1,16.2 L1351.1,10.0 L1352.1,3.8 L1353.1,-2.5 L1354.1,-8.8 L1355.1,-15.1 L1356.1,-21.5 L1357.1,-27.8 L1358.1,-34.2" fill="none" stroke="#0000ff" stroke-width="3.6" stroke-linejoin="round"/>
<g fill="#0000ff"><rect x="199.2" y="430.3" width="23" height="23"/><rect x="258.5" y="783.5" width="23" height="23"/><rect x="317.9" y="873.5" width="23" height="23"/><rect x="376.9" y="852.9" width="23" height="23"/><rect x="436.5" y="784.1" width="23" height="23"/><rect x="495.5" y="701.5" width="23" height="23"/><rect x="554.9" y="620.0" width="23" height="23"/><rect x="614.3" y="549.4" width="23" height="23"/><rect x="673.5" y="493.5" width="23" height="23"/><rect x="732.8" y="450.2" width="23" height="23"/><rect x="792.0" y="420.9" width="23" height="23"/><rect x="851.1" y="402.9" width="23" height="23"/><rect x="910.3" y="389.9" width="23" height="23"/><rect x="969.7" y="385.5" width="23" height="23"/><rect x="1028.9" y="391.9" width="23" height="23"/><rect x="1088.1" y="390.7" width="23" height="23"/><rect x="1147.5" y="384.3" width="23" height="23"/><rect x="1206.7" y="373.9" width="23" height="23"/><rect x="1266.3" y="307.1" width="23" height="23"/><rect x="1325.4" y="81.8" width="23" height="23"/></g>
<rect x="151.8" y="14.9" width="1244.3" height="871.0" fill="none" stroke="#000" stroke-width="2"/>
<path d="M211.1,885.9v-12.2M211.1,14.9v12.2M329.6,885.9v-24.7M329.6,14.9v24.7M448.1,885.9v-12.2M448.1,14.9v12.2M566.6,885.9v-24.7M566.6,14.9v24.7M685.1,885.9v-12.2M685.1,14.9v12.2M803.6,885.9v-24.7M803.6,14.9v24.7M922.1,885.9v-12.2M922.1,14.9v12.2M1040.6,885.9v-24.7M1040.6,14.9v24.7M1159.1,885.9v-12.2M1159.1,14.9v12.2M1277.6,885.9v-24.7M1277.6,14.9v24.7M151.8,798.8h12.2M1396.1,798.8h-12.2M151.8,711.7h24.7M1396.1,711.7h-24.7M151.8,624.6h12.2M1396.1,624.6h-12.2M151.8,537.5h24.7M1396.1,537.5h-24.7M151.8,450.4h12.2M1396.1,450.4h-12.2M151.8,363.3h24.7M1396.1,363.3h-24.7M151.8,276.2h12.2M1396.1,276.2h-12.2M151.8,189.1h24.7M1396.1,189.1h-24.7M151.8,102.0h12.2M1396.1,102.0h-12.2" fill="none" stroke="#000" stroke-width="2"/>
<text transform="translate(330.4,924.3) scale(0.967,1)" font-size="36.1" text-anchor="middle">800</text>
<text transform="translate(567.4,924.3) scale(0.967,1)" font-size="36.1" text-anchor="middle">1000</text>
<text transform="translate(804.4,924.3) scale(0.967,1)" font-size="36.1" text-anchor="middle">1200</text>
<text transform="translate(1041.4,924.3) scale(0.967,1)" font-size="36.1" text-anchor="middle">1400</text>
<text transform="translate(1278.4,924.3) scale(0.967,1)" font-size="36.1" text-anchor="middle">1600</text>
<text transform="translate(141.0,898.4) scale(0.967,1)" font-size="36.1" text-anchor="end">0</text>
<text transform="translate(141.0,724.2) scale(0.967,1)" font-size="36.1" text-anchor="end">20</text>
<text transform="translate(141.0,550.0) scale(0.967,1)" font-size="36.1" text-anchor="end">40</text>
<text transform="translate(141.0,375.8) scale(0.967,1)" font-size="36.1" text-anchor="end">60</text>
<text transform="translate(141.0,201.6) scale(0.967,1)" font-size="36.1" text-anchor="end">80</text>
<text transform="translate(141.0,27.4) scale(0.967,1)" font-size="36.1" text-anchor="end">100</text>
<text id="xlabel" transform="translate(582.0,993.5) scale(0.943,1)" font-size="54.8">Cell volume (Å<tspan font-size="38.4" dy="-30.2" dx="-0.5">3</tspan><tspan dy="30.2" dx="0.7"> )</tspan></text>
<text id="ylabel" transform="translate(59.6,663.4) rotate(-90) scale(0.9385,1)" font-size="54.8">Enthalpy (kJ mol<tspan font-size="38.4" dy="-31.3">-1</tspan><tspan dy="31.3">)</tspan></text>
<rect x="400.3" y="77" width="697.8" height="103.6" fill="#fff" stroke="#000" stroke-width="1.5"/>
<circle cx="437.8" cy="105.8" r="13.4" fill="#000"/>
<rect x="426.3" y="140.4" width="23" height="23" fill="#0000ff"/>
<text id="leg1" transform="translate(487.9,115.6) scale(0.943,1)" font-size="37.0">Ad hoc PBEsol<tspan font-size="36.5" dx="0.1" dy="3.3">+</tspan><tspan dx="0.2" dy="-3.3">RTPSS</tspan><tspan font-size="36.5" dx="0.1" dy="3.3">+</tspan><tspan dx="0.2" dy="-3.3">D3(BJ)</tspan><tspan font-size="36.5" dx="0.1" dy="3.3">+</tspan><tspan dx="0.2" dy="-3.3">U</tspan><tspan font-size="36.5" dx="0.1" dy="3.3">+</tspan><tspan dx="0.2" dy="-3.3">J</tspan></text>
<text id="leg2" transform="translate(487.2,161.1) scale(0.943,1)" font-size="37.0">Brandenburg et al. TPSS<tspan font-size="36.5" dx="0.1" dy="3.3">+</tspan><tspan dx="0.2" dy="-3.3">D3(BJ)</tspan><tspan font-size="36.5" dx="0.1" dy="3.3">+</tspan><tspan dx="0.2" dy="-3.3">U</tspan><tspan font-size="36.5" dx="0.1" dy="3.3">+</tspan><tspan dx="0.2" dy="-3.3">J</tspan></text>
</svg></body></html>
